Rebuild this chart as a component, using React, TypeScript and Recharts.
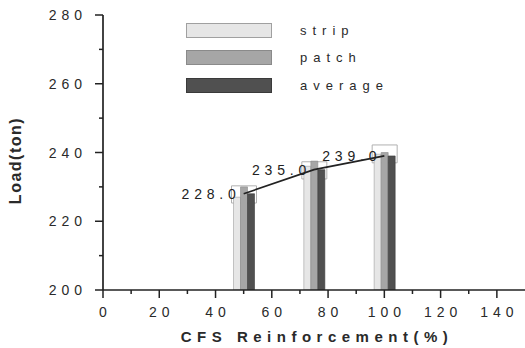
import React from "react"
import { ComposedChart, Bar, Line, XAxis, YAxis, Legend, LabelList } from "recharts"

const reinforcement = [50, 75, 100]
const stripLoad = [227, 236, 239.5]
const patchLoad = [230, 237.5, 240]
const averageLoad = [228, 235, 239]
const boxLow = [225.3, 232.3, 237]
const boxHigh = [230.3, 237.3, 242.2]
const xTicks = [0, 10, 20, 30, 40, 50, 60, 70, 80, 90, 100, 110, 120, 130, 140]
const yTicks = [200, 210, 220, 230, 240, 250, 260, 270, 280]

const data = reinforcement.map((x, i) => ({
  x,
  strip: stripLoad[i],
  patch: patchLoad[i],
  average: averageLoad[i],
  box: [boxLow[i], boxHigh[i]],
}))

const FONT = "'Liberation Sans', Arial, sans-serif"

const series = [
  { key: "strip", label: "strip", fill: "#e6e6e6", stroke: "#a0a0a0" },
  { key: "patch", label: "patch", fill: "#a6a6a6", stroke: "#8a8a8a" },
  { key: "average", label: "average", fill: "#505050", stroke: "#3a3a3a" },
]

function XTick({ x, y, payload }: any) {
  const major = payload.value % 20 === 0
  return (
    <g>
      <line x1={x} x2={x} y1={y} y2={y + (major ? 8 : 4)} stroke="#222" strokeWidth={1.5} />
      {major && (
        <text x={x + 2.5} y={y + 27} textAnchor="middle" fontSize={14} fill="#2a2a2a" fontFamily={FONT} style={{ letterSpacing: 5 }}>
          {payload.value}
        </text>
      )}
    </g>
  )
}

function YTick({ x, y, payload }: any) {
  const major = payload.value % 20 === 0
  return (
    <g>
      <line x1={x - (major ? 8 : 4)} x2={x} y1={y} y2={y} stroke="#222" strokeWidth={1.5} />
      {major && (
        <text x={x - 16} y={y + 5} textAnchor="end" fontSize={14} fill="#2a2a2a" fontFamily={FONT} style={{ letterSpacing: 5 }}>
          {payload.value}
        </text>
      )}
    </g>
  )
}

function ValueLabel({ x, y, value }: any) {
  return (
    <text x={x - 3} y={y + 5} textAnchor="end" fontSize={14} fill="#222" fontFamily={FONT} style={{ letterSpacing: 4.8 }}>
      {Number(value).toFixed(1)}
    </text>
  )
}

function LegendBox() {
  return (
    <div style={{ fontFamily: FONT }}>
      {series.map((s) => (
        <div key={s.key} style={{ display: "flex", alignItems: "center", height: 27.3 }}>
          <div style={{ width: 84, height: 13, background: s.fill, border: `1px solid ${s.stroke}` }} />
          <span style={{ marginLeft: 28, fontSize: 13, color: "#2a2a2a", letterSpacing: 6 }}>{s.label}</span>
        </div>
      ))}
    </div>
  )
}

export default function App() {
  return (
    <div style={{ position: "absolute", left: 0, top: 0, width: 525, height: 348, background: "#fff" }}>
      <ComposedChart width={525} height={348} data={data} margin={{ top: 15, right: 0, bottom: 0, left: 0 }} barGap={0}>
        <XAxis
          dataKey="x"
          type="number"
          domain={[0, 150]}
          ticks={xTicks}
          interval={0}
          height={58}
          tickSize={0}
          tickMargin={0}
          tickLine={false}
          tick={<XTick />}
          axisLine={{ stroke: "#222", strokeWidth: 1.7 }}
          label={{
            content: ({ viewBox }: any) => (
              <text
                x={viewBox.x + viewBox.width / 2 + 3}
                y={viewBox.y + 52}
                textAnchor="middle"
                fontSize={15}
                fontWeight="bold"
                fill="#2a2a2a"
                fontFamily={FONT}
                style={{ letterSpacing: 5.5 }}
              >
                CFS Reinforcement(%)
              </text>
            ),
          }}
        />
        <XAxis xAxisId="box" dataKey="x" type="number" domain={[0, 150]} hide />
        <YAxis
          type="number"
          domain={[200, 280]}
          ticks={yTicks}
          interval={0}
          width={103}
          tickSize={0}
          tickMargin={0}
          tickLine={false}
          tick={<YTick />}
          axisLine={{ stroke: "#222", strokeWidth: 1.7 }}
          allowDataOverflow
          label={{
            content: ({ viewBox }: any) => {
              const cx = 17
              const cy = viewBox.y + viewBox.height / 2 + 8
              return (
                <text
                  x={cx}
                  y={cy}
                  transform={`rotate(-90 ${cx} ${cy})`}
                  textAnchor="middle"
                  dominantBaseline="middle"
                  fontSize={16}
                  fontWeight="bold"
                  fill="#2a2a2a"
                  fontFamily={FONT}
                  style={{ letterSpacing: 1.5 }}
                >
                  Load(ton)
                </text>
              )
            },
          }}
        />
        <Legend
          layout="vertical"
          align="center"
          verticalAlign="middle"
          wrapperStyle={{ left: 186, top: 17, width: 220 }}
          content={() => <LegendBox />}
        />
        <Bar xAxisId="box" dataKey="box" barSize={25} fill="none" stroke="#b0b0b0" strokeWidth={1} isAnimationActive={false} legendType="none" />
        {series.map((s) => (
          <Bar
            key={s.key}
            dataKey={s.key}
            barSize={7}
            fill={s.fill}
            stroke={s.stroke}
            strokeWidth={0.6}
            isAnimationActive={false}
          />
        ))}
        <Line dataKey="average" type="linear" stroke="#222" strokeWidth={1.7} dot={false} isAnimationActive={false} legendType="none">
          <LabelList dataKey="average" content={<ValueLabel />} />
        </Line>
      </ComposedChart>
    </div>
  )
}
